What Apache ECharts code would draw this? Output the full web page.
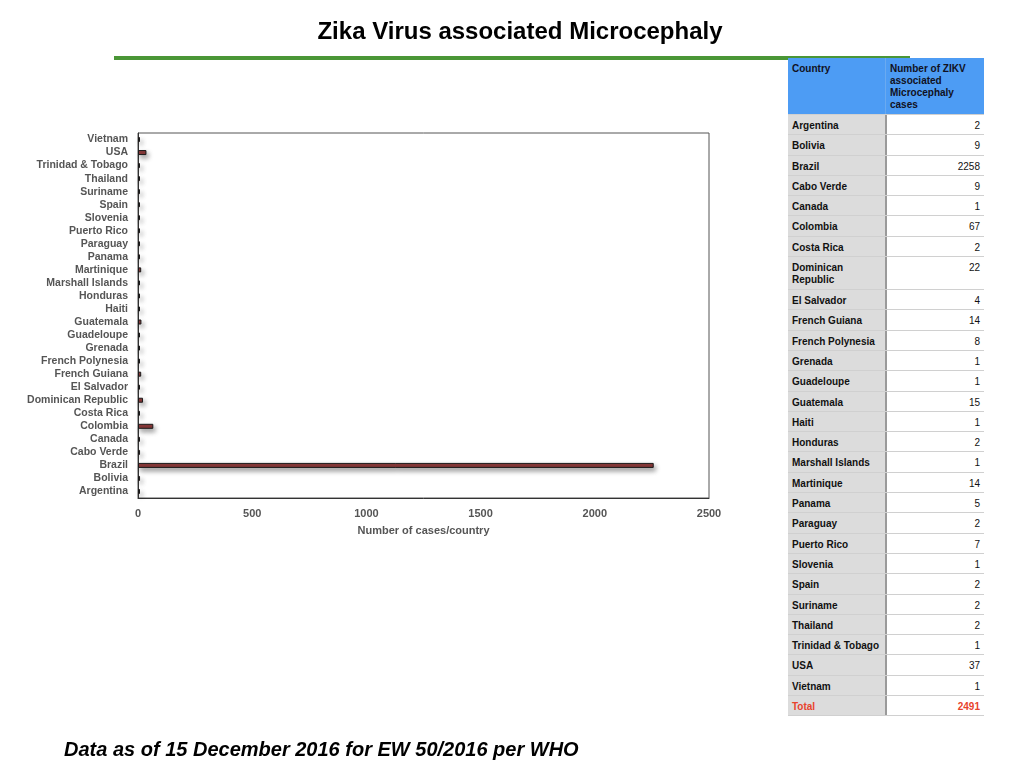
<!DOCTYPE html>
<html>
<head>
<meta charset="utf-8">
<script src="https://cdn.jsdelivr.net/npm/echarts@6/dist/echarts.min.js"></script>
<style>
  html,body{margin:0;padding:0;background:#fff;}
  #wrap{position:relative;width:1024px;height:768px;overflow:hidden;font-family:"Liberation Sans",Arial,sans-serif;}
  #chart{position:absolute;left:0;top:0;width:1024px;height:768px;}
  #title{position:absolute;left:0;width:1040px;top:17px;text-align:center;font-size:24px;font-weight:bold;color:#000;}
  #rule{position:absolute;left:114px;top:56px;width:796px;height:4px;background:#4a9636;}
  #footer{position:absolute;left:64px;top:738px;font-size:20px;font-weight:bold;font-style:italic;color:#000;}
  #table{position:absolute;left:788px;top:58px;width:196px;font-size:10px;}
  .row{position:relative;width:196px;border-bottom:1px solid #d0d0d0;box-sizing:border-box;}
  .c1{position:absolute;left:0;top:0;bottom:0;width:97px;background:#dcdcdc;box-sizing:border-box;padding:5px 4px 0 4px;font-weight:bold;line-height:12px;color:#111;}
  .c2{position:absolute;left:97px;top:0;bottom:0;width:99px;background:#fff;border-left:2px solid #9a9a9a;box-sizing:border-box;padding:5px 4px 0 4px;text-align:right;line-height:12px;color:#111;}
  .hdr .c1,.hdr .c2{background:#4d9cf4;border-left:1px solid #6aaaf0;text-align:left;font-weight:bold;color:#112;}
  .hdr .c1{border-left:none;}
  .tot .c1,.tot .c2{color:#e8432c;font-weight:bold;}
</style>
</head>
<body>
<div id="wrap">
  <div id="chart"></div>
  <div id="title">Zika Virus associated Microcephaly</div>
  <div id="rule"></div>
  <div id="table"></div>
  <div id="footer">Data as of 15 December 2016 for EW 50/2016 per WHO</div>
</div>
<script>
const countries = ["Argentina","Bolivia","Brazil","Cabo Verde","Canada","Colombia","Costa Rica","Dominican Republic","El Salvador","French Guiana","French Polynesia","Grenada","Guadeloupe","Guatemala","Haiti","Honduras","Marshall Islands","Martinique","Panama","Paraguay","Puerto Rico","Slovenia","Spain","Suriname","Thailand","Trinidad & Tobago","USA","Vietnam"];
const cases = [2,9,2258,9,1,67,2,22,4,14,8,1,1,15,1,2,1,14,5,2,7,1,2,2,2,1,37,1];
const totalCases = 2491;
const xTicks = [0,500,1000,1500,2000,2500];
const headerCountry = "Country";
const headerCases = "Number of ZIKV associated Microcephaly cases";

// table
const tbl = document.getElementById('table');
function addRow(a, b, cls, h){
  const r = document.createElement('div');
  r.className = 'row ' + (cls||'');
  r.style.height = h + 'px';
  const c1 = document.createElement('div'); c1.className='c1'; c1.textContent=a;
  const c2 = document.createElement('div'); c2.className='c2'; c2.textContent=b;
  r.appendChild(c1); r.appendChild(c2);
  tbl.appendChild(r);
}
addRow(headerCountry, headerCases, 'hdr', 57);
countries.forEach((c,i)=>{
  addRow(c, String(cases[i]), '', c === "Dominican Republic" ? 33 : 20.3);
});
addRow("Total", String(totalCases), 'tot', 20.3);

// chart
const chart = echarts.init(document.getElementById('chart'));
const labelStyle = {fontFamily:'"Liberation Sans",Arial,sans-serif',fontWeight:'bold',fontSize:10.5,color:'#555'};
chart.setOption({
  animation:false,
  grid:{left:138,right:315,top:133,bottom:270,show:true,borderColor:'#555',borderWidth:1,backgroundColor:'#fff'},
  xAxis:{
    type:'value',min:xTicks[0],max:xTicks[xTicks.length-1],interval:xTicks[1]-xTicks[0],
    splitLine:{show:false},
    axisLine:{show:true,lineStyle:{color:'#333'}},
    axisTick:{show:false},
    axisLabel:Object.assign({margin:10,formatter:v=>String(v)},labelStyle,{fontSize:11}),
    name:'Number of cases/country',nameLocation:'middle',nameGap:27,
    nameTextStyle:Object.assign({},labelStyle,{fontSize:11})
  },
  yAxis:{
    type:'category',data:countries,
    axisLine:{show:true,lineStyle:{color:'#333'}},
    axisTick:{show:false},
    axisLabel:Object.assign({margin:10,interval:0},labelStyle)
  },
  series:[{
    type:'bar',data:cases,barWidth:5,barMinHeight:2,
    itemStyle:{color:'#8c3a3a',borderColor:'#1a1a1a',borderWidth:1,
      shadowColor:'rgba(0,0,0,0.4)',shadowBlur:5,shadowOffsetX:2,shadowOffsetY:3}
  }]
});
</script>
</body>
</html>
